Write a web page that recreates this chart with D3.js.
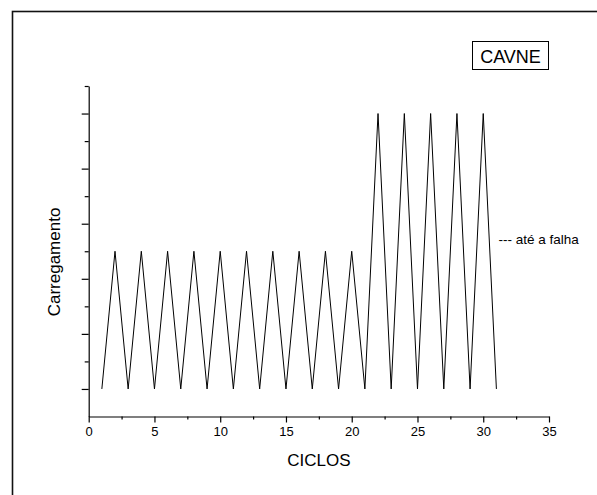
<!DOCTYPE html>
<html>
<head>
<meta charset="utf-8">
<script src="https://cdn.jsdelivr.net/npm/d3@7"></script>
<style>
  html, body { margin: 0; padding: 0; background: #fff; }
  svg { display: block; font-family: "Liberation Sans", Arial, sans-serif; }
</style>
</head>
<body>
<svg id="chart" width="597" height="495"></svg>
<script>
// ---- data ----
const cycles = [1,2,3,4,5,6,7,8,9,10,11,12,13,14,15,16,17,18,19,20,21,22,23,24,25,26,27,28,29,30,31];
const loads  = [1,6,1,6,1,6,1,6,1,6,1,6,1,6,1,6,1,6,1,6,1,11,1,11,1,11,1,11,1,11,1];
const xTicks = [0,5,10,15,20,25,30,35];
const xMinorTicks = [2.5,7.5,12.5,17.5,22.5,27.5,32.5];
const yMajorTicks = [1,3,5,7,9,11];
const yMinorTicks = [2,4,6,8,10,12];
const xTitle = "CICLOS";
const yTitle = "Carregamento";
const legendText = "CAVNE";
const noteText = "--- até a falha";

// ---- layout ----
const svg = d3.select("#chart");
const x = d3.scaleLinear().domain([0, 35]).range([88.7, 549]);
const y = d3.scaleLinear().domain([0, 12]).range([416.5, 86]);

// outer frame (only top and left visible)
svg.append("rect")
  .attr("x", 12.5).attr("y", 11.5)
  .attr("width", 800).attr("height", 800)
  .attr("fill", "none").attr("stroke", "#111").attr("stroke-width", 1.6);

// x axis
const gx = svg.append("g").attr("transform", `translate(0,${y(0)})`);
gx.call(d3.axisBottom(x).tickValues(xTicks).tickSize(6).tickSizeOuter(0).tickPadding(4).tickFormat(d3.format("d")));
gx.append("g").call(d3.axisBottom(x).tickValues(xMinorTicks).tickSize(3).tickSizeOuter(0).tickFormat(""))
  .select(".domain").remove();

// y axis
const gy = svg.append("g").attr("transform", `translate(${x(0)},0)`);
gy.call(d3.axisLeft(y).tickValues(yMajorTicks).tickSize(7).tickSizeOuter(0).tickFormat(""));
gy.append("g").call(d3.axisLeft(y).tickValues(yMinorTicks).tickSize(4).tickSizeOuter(0).tickFormat(""))
  .select(".domain").remove();

svg.selectAll(".domain").attr("stroke", "#000").attr("stroke-width", 1.2);
svg.selectAll(".tick line").attr("stroke", "#000").attr("stroke-width", 1.2);
svg.selectAll(".tick text").attr("font-size", 13).attr("fill", "#000")
  .attr("font-family", "'Liberation Sans', Arial, sans-serif");

// data line
const line = d3.line().x((d, i) => x(cycles[i])).y(d => y(d));
svg.append("path")
  .datum(loads)
  .attr("d", line)
  .attr("fill", "none")
  .attr("stroke", "#000")
  .attr("stroke-width", 1);

// axis titles
svg.append("text")
  .attr("x", (x(0) + x(35)) / 2).attr("y", 466)
  .attr("text-anchor", "middle").attr("font-size", 17).attr("fill", "#000")
  .text(xTitle);

svg.append("text")
  .attr("transform", `translate(60,262) rotate(-90)`)
  .attr("text-anchor", "middle").attr("font-size", 17).attr("fill", "#000")
  .text(yTitle);

// legend box
const lg = svg.append("g");
lg.append("rect")
  .attr("x", 472.5).attr("y", 41.5).attr("width", 76).attr("height", 28)
  .attr("fill", "none").attr("stroke", "#000").attr("stroke-width", 1);
lg.append("text")
  .attr("x", 510.5).attr("y", 62.5)
  .attr("text-anchor", "middle").attr("font-size", 18).attr("fill", "#000")
  .text(legendText);

// note
svg.append("text")
  .attr("x", 498.5).attr("y", 244)
  .attr("font-size", 13.5).attr("fill", "#000")
  .text(noteText);
</script>
</body>
</html>
